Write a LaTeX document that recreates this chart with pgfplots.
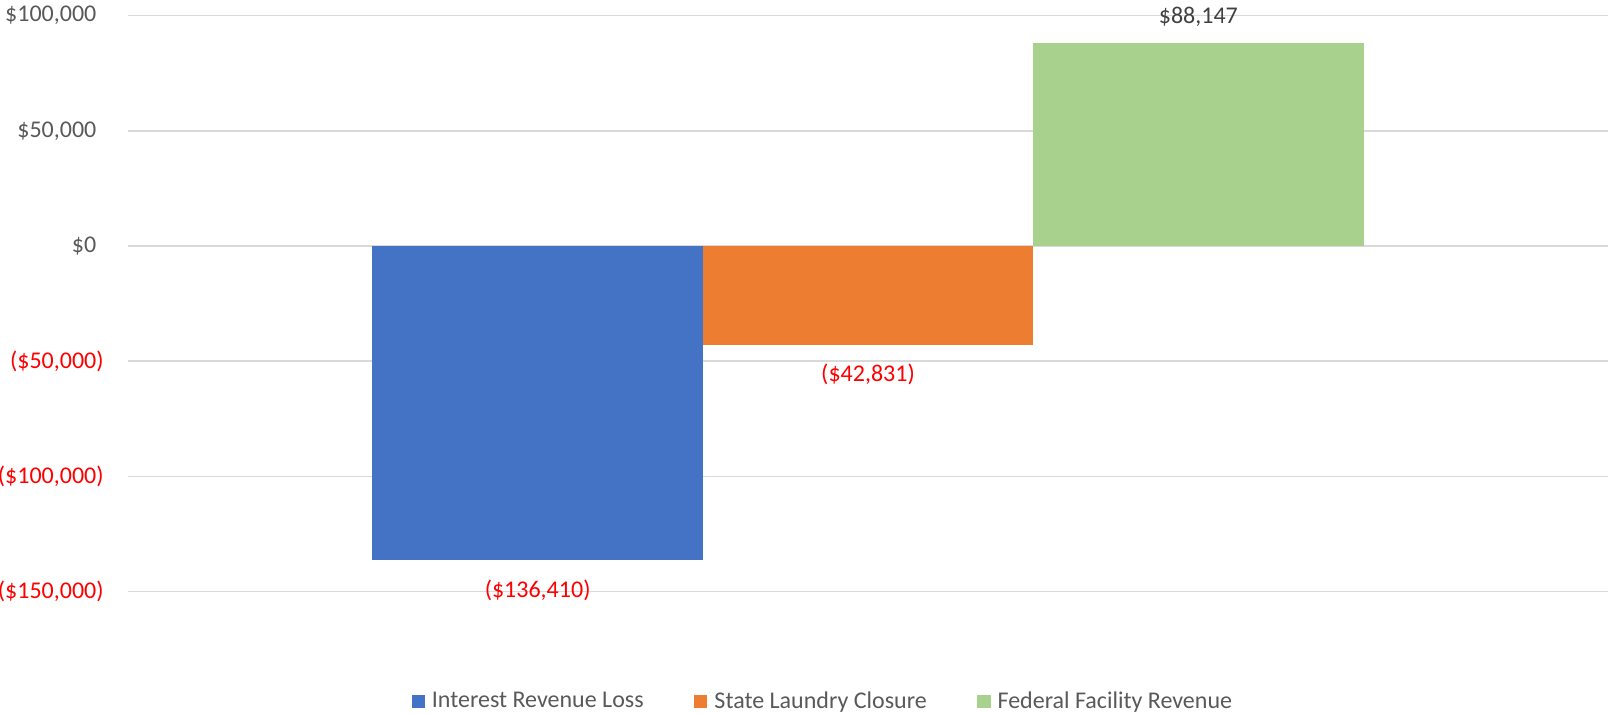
\documentclass[border=0pt]{standalone}
\usepackage{fontspec}
\setmainfont{Carlito}
\usepackage{pgfplots}
\pgfplotsset{compat=1.18}
\definecolor{cblue}{HTML}{4472C4}
\definecolor{corange}{HTML}{ED7D31}
\definecolor{cgreen}{HTML}{A9D18E}
\definecolor{gridgrey}{HTML}{D9D9D9}
\definecolor{tickgrey}{HTML}{595959}
\definecolor{lblgrey}{HTML}{404040}
\definecolor{negred}{HTML}{FF0000}
\begin{document}
\begin{tikzpicture}
\begin{axis}[
  name=ax,
  scale only axis,
  width=740pt, height=288pt,
  xmin=-2.24, xmax=2.24,
  ymin=-150000, ymax=100000,
  axis line style={draw=none},
  xtick=\empty,
  major tick length=0pt,
  ymajorgrids,
  grid style={draw=gridgrey, line width=0.8pt},
  ytick={-150000,-100000,-50000,0,50000,100000},
  yticklabels={
    {\textcolor{negred}{(\$150,000)}},
    {\textcolor{negred}{(\$100,000)}},
    {\textcolor{negred}{(\$50,000)}},
    {\$0\hphantom{)}},
    {\$50,000\hphantom{)}},
    {\$100,000\hphantom{)}}},
  yticklabel style={inner sep=0pt, xshift=-12pt, text=tickgrey, font=\fontsize{12pt}{14pt}\selectfont},
  ybar, bar width=1, bar shift=0pt,
  legend columns=3,
  legend style={draw=none, fill=none, at={(0.4712,-0.1905)}, anchor=center,
    font=\fontsize{12pt}{14pt}\selectfont, text=tickgrey,
    /tikz/every even column/.append style={column sep=21.8pt},
    nodes={inner xsep=3.5pt, inner ysep=0pt}},
  legend image code/.code={\fill[#1, draw=none] (0pt,-3.3pt) rectangle (6.6pt,3.3pt);},
  nodes near coords,
  point meta=explicit symbolic,
  nodes near coords style={font=\fontsize{12pt}{14pt}\selectfont, anchor=center, inner sep=0pt},
]
\addplot[fill=cblue, draw=none,
  nodes near coords style={text=negred, yshift=-15.2pt}]
  coordinates {(-1,-136410) [{(\$136,410)}]};
\addlegendentry{Interest Revenue Loss}
\addplot[fill=corange, draw=none,
  nodes near coords style={text=negred, yshift=-15pt}]
  coordinates {(0,-42831) [{(\$42,831)}]};
\addlegendentry{State Laundry Closure}
\addplot[fill=cgreen, draw=none,
  nodes near coords style={text=lblgrey, yshift=13.2pt}]
  coordinates {(1,88147) [{\$88,147}]};
\addlegendentry{Federal Facility Revenue}
\end{axis}
\pgfresetboundingbox
\path ([shift={(-64pt,-61.15pt)}]ax.south west) rectangle ([shift={(0pt,7.85pt)}]ax.north east);
\end{tikzpicture}
\end{document}
